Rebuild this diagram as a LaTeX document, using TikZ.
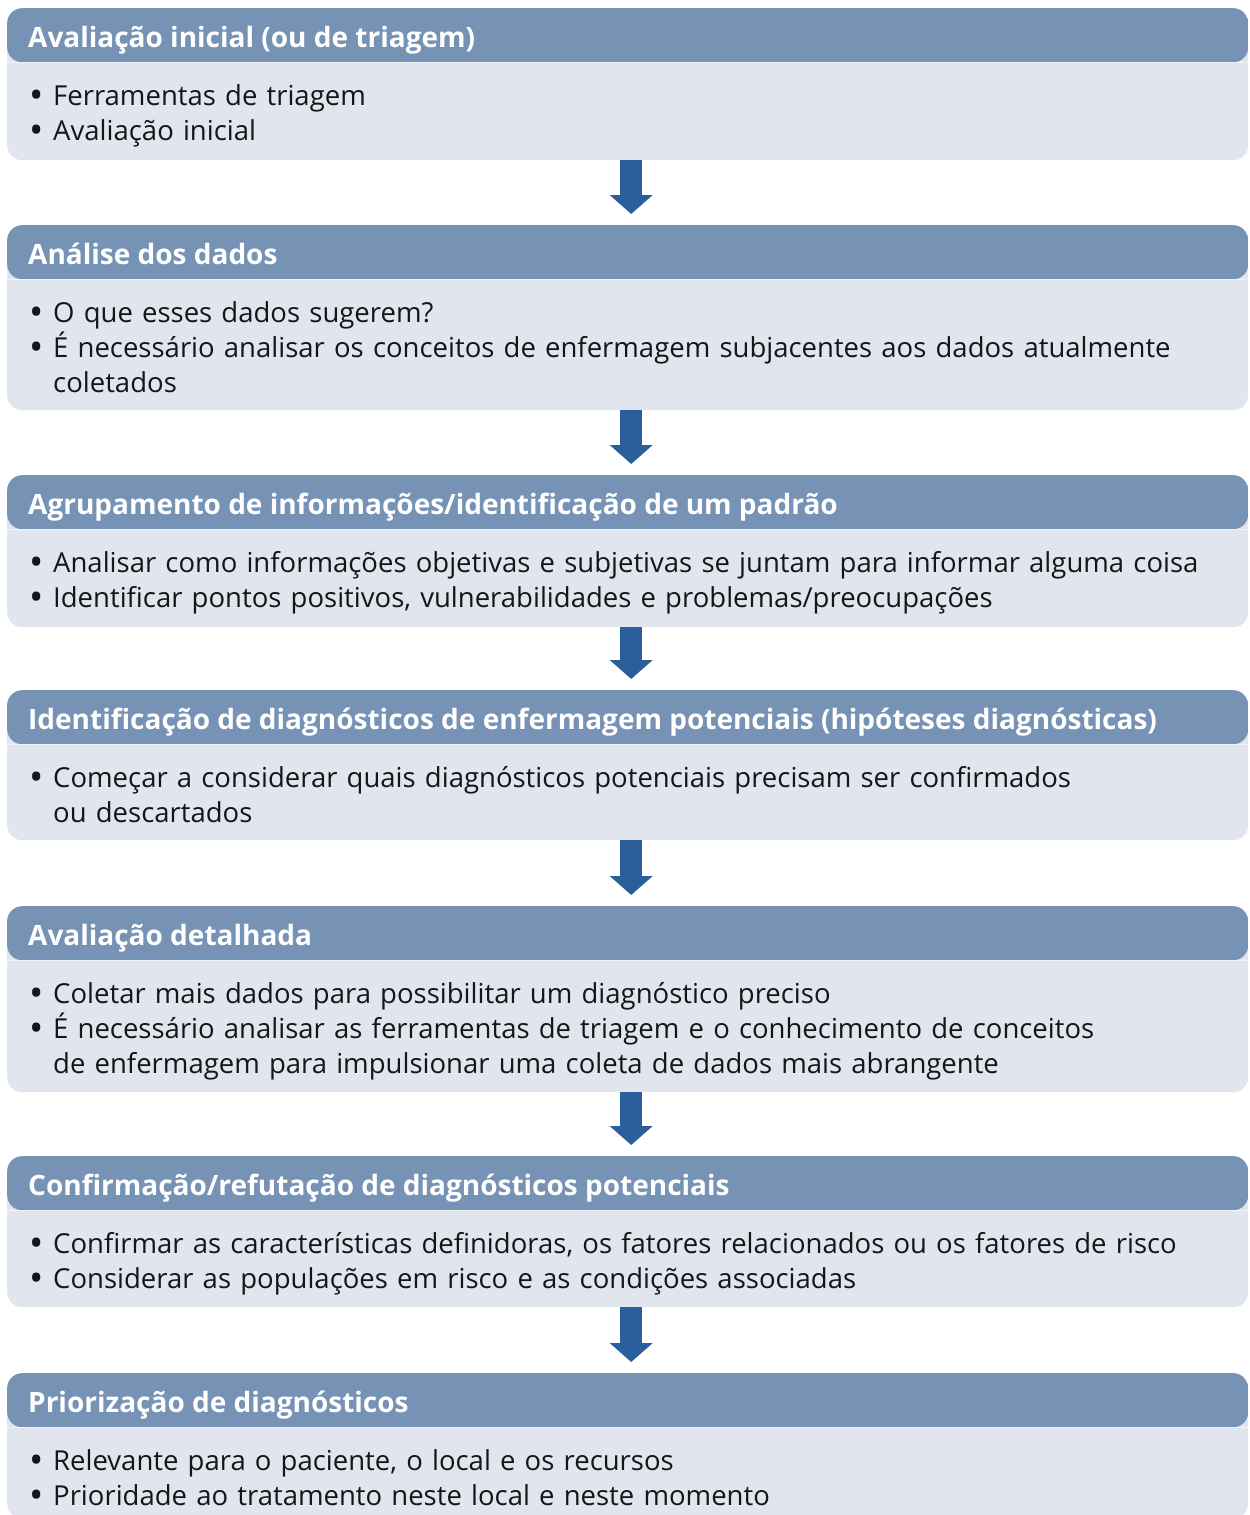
\documentclass[tikz,border=0pt]{standalone}
\usepackage{fontspec}
\setmainfont{Open Sans}
\usetikzlibrary{arrows.meta}

\definecolor{headc}{RGB}{118,146,181}
\definecolor{bodyc}{RGB}{225,229,237}
\definecolor{arrowc}{RGB}{42,95,155}
\definecolor{textc}{RGB}{22,22,24}

% list lines: a bullet line, and a continuation line of the same item
\newcommand{\bul}{\makebox[23pt][l]{\hspace*{-1pt}\raisebox{-3.5pt}{\fontsize{38}{35}\selectfont\textbullet}}}
\newcommand{\cont}{\hspace*{23pt}}

\tikzset{
  stepbox/.style={
    anchor=north west, rounded corners=15pt, fill=bodyc,
    minimum width=1241pt, minimum height=#1, inner sep=0pt,
    path picture={
      \fill[headc] (path picture bounding box.north west)
        rectangle ([yshift=-54pt]path picture bounding box.north east);
      \draw[white!55!bodyc, line width=1.5pt]
        ([yshift=-54.5pt]path picture bounding box.north west)
        -- ([yshift=-54.5pt]path picture bounding box.north east);
    }},
  headtext/.style={anchor=base west, text=white, inner sep=0pt,
    font=\fontsize{28}{35}\selectfont\bfseries},
  bodytext/.style={anchor=base west, text=textc, inner sep=0pt,
    text width=1210pt, align=left,
    font=\fontsize{27.5}{35}\selectfont},
  flowarrow/.style={draw=arrowc, line width=22pt,
    -{Triangle[width=42pt,length=19pt]}, shorten >=11pt}
}

\begin{document}
\begin{tikzpicture}[x=1pt,y=-1pt]
\useasboundingbox[fill=white] (0,0) rectangle (1250,1515);

% boxes
\node[stepbox=152pt] (s1) at (7,8) {};
\node[stepbox=185pt] (s2) at (7,225) {};
\node[stepbox=152pt] (s3) at (7,475) {};
\node[stepbox=150pt] (s4) at (7,690) {};
\node[stepbox=186pt] (s5) at (7,906) {};
\node[stepbox=151pt] (s6) at (7,1156) {};
\node[stepbox=145pt] (s7) at (7,1373) {};

% titles
\foreach \s/\t in {
  s1/{Avaliação inicial (ou de triagem)},
  s2/{Análise dos dados},
  s3/{Agrupamento de informações/identificação de um padrão},
  s4/{Identificação de diagnósticos de enfermagem potenciais (hipóteses diagnósticas)},
  s5/{Avaliação detalhada},
  s6/{Confirmação/refutação de diagnósticos potenciais},
  s7/{Priorização de diagnósticos}}
  \node[headtext] (\s-title) at ([xshift=21pt,yshift=-39pt]\s.north west) {\t};

% bullet lists
\node[bodytext] (s1-text) at ([xshift=23pt,yshift=-97pt]s1.north west) {%
  \bul Ferramentas de triagem\\
  \bul Avaliação inicial};
\node[bodytext] (s2-text) at ([xshift=23pt,yshift=-97pt]s2.north west) {%
  \bul O que esses dados sugerem?\\
  \bul É necessário analisar os conceitos de enfermagem subjacentes aos dados atualmente\\
  \cont coletados};
\node[bodytext] (s3-text) at ([xshift=23pt,yshift=-97pt]s3.north west) {%
  \bul Analisar como informações objetivas e subjetivas se juntam para informar alguma coisa\\
  \bul Identificar pontos positivos, vulnerabilidades e problemas/preocupações};
\node[bodytext] (s4-text) at ([xshift=23pt,yshift=-97pt]s4.north west) {%
  \bul Começar a considerar quais diagnósticos potenciais precisam ser confirmados\\
  \cont ou descartados};
\node[bodytext] (s5-text) at ([xshift=23pt,yshift=-97pt]s5.north west) {%
  \bul Coletar mais dados para possibilitar um diagnóstico preciso\\
  \bul É necessário analisar as ferramentas de triagem e o conhecimento de conceitos\\
  \cont de enfermagem para impulsionar uma coleta de dados mais abrangente};
\node[bodytext] (s6-text) at ([xshift=23pt,yshift=-97pt]s6.north west) {%
  \bul Confirmar as características definidoras, os fatores relacionados ou os fatores de risco\\
  \bul Considerar as populações em risco e as condições associadas};
\node[bodytext] (s7-text) at ([xshift=23pt,yshift=-97pt]s7.north west) {%
  \bul Relevante para o paciente, o local e os recursos\\
  \bul Prioridade ao tratamento neste local e neste momento};

% arrows between steps
\foreach \a/\b in {s1/s2, s2/s3, s3/s4, s4/s5, s5/s6, s6/s7}
  \draw[flowarrow] ([xshift=3.5pt]\a.south) -- ([xshift=3.5pt]\b.north);
\end{tikzpicture}
\end{document}
